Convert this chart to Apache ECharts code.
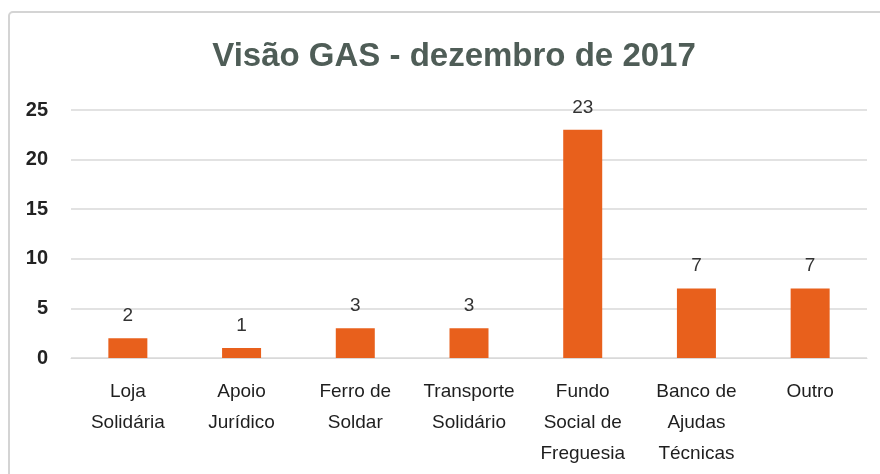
<!DOCTYPE html>
<html>
<head>
<meta charset="utf-8">
<script src="https://cdn.jsdelivr.net/npm/echarts@6/dist/echarts.min.js"></script>
<style>
  html, body { margin: 0; padding: 0; background: #fff; }
  #main { width: 880px; height: 474px; }
</style>
</head>
<body>
<div id="main"></div>
<script>
// categorias e valores
var categorias = [
  "Loja\nSolidária",
  "Apoio\nJurídico",
  "Ferro de\nSoldar",
  "Transporte\nSolidário",
  "Fundo\nSocial de\nFreguesia",
  "Banco de\nAjudas\nTécnicas",
  "Outro"
];
var valores = [2, 1, 3, 3, 23, 7, 7];
var yTicks = [0, 5, 10, 15, 20, 25];

var fonte = "'Liberation Sans Narrow', 'Liberation Sans', sans-serif";

var myChart = echarts.init(document.getElementById("main"));
var option = {
  backgroundColor: "#fff",
  title: {
    text: "Visão GAS - dezembro de 2017",
    left: 449,
    top: 35,
    textAlign: "center",
    textStyle: {
      fontFamily: fonte,
      fontSize: 33,
      fontWeight: "bold",
      color: "#4f5d57"
    }
  },
  graphic: [
    {
      type: "rect",
      shape: { x: 9, y: 12, width: 880, height: 470, r: 4 },
      style: { fill: "none", stroke: "#d4d4d4", lineWidth: 2 },
      silent: true
    }
  ],
  grid: {
    left: 71,
    right: 13,
    top: 110,
    bottom: 116
  },
  xAxis: {
    type: "category",
    data: categorias,
    axisLine: { show: true, lineStyle: { color: "#d9d9d9" } },
    axisTick: { show: false },
    axisLabel: {
      interval: 0,
      margin: 18,
      fontFamily: fonte,
      fontSize: 19,
      lineHeight: 31,
      color: "#1e1e1e"
    }
  },
  yAxis: {
    type: "value",
    min: yTicks[0],
    max: yTicks[yTicks.length - 1],
    interval: 5,
    axisLine: { show: false },
    axisTick: { show: false },
    splitLine: { lineStyle: { color: "#d9d9d9", width: 1.5 } },
    axisLabel: {
      margin: 23,
      fontFamily: fonte,
      fontSize: 20,
      fontWeight: "bold",
      color: "#222"
    }
  },
  series: [
    {
      type: "bar",
      data: valores,
      barWidth: 39,
      itemStyle: { color: "#e8601c" },
      label: {
        show: true,
        position: "top",
        distance: 13,
        fontFamily: fonte,
        fontSize: 19,
        color: "#333"
      }
    }
  ]
};
myChart.setOption(option);
</script>
</body>
</html>
